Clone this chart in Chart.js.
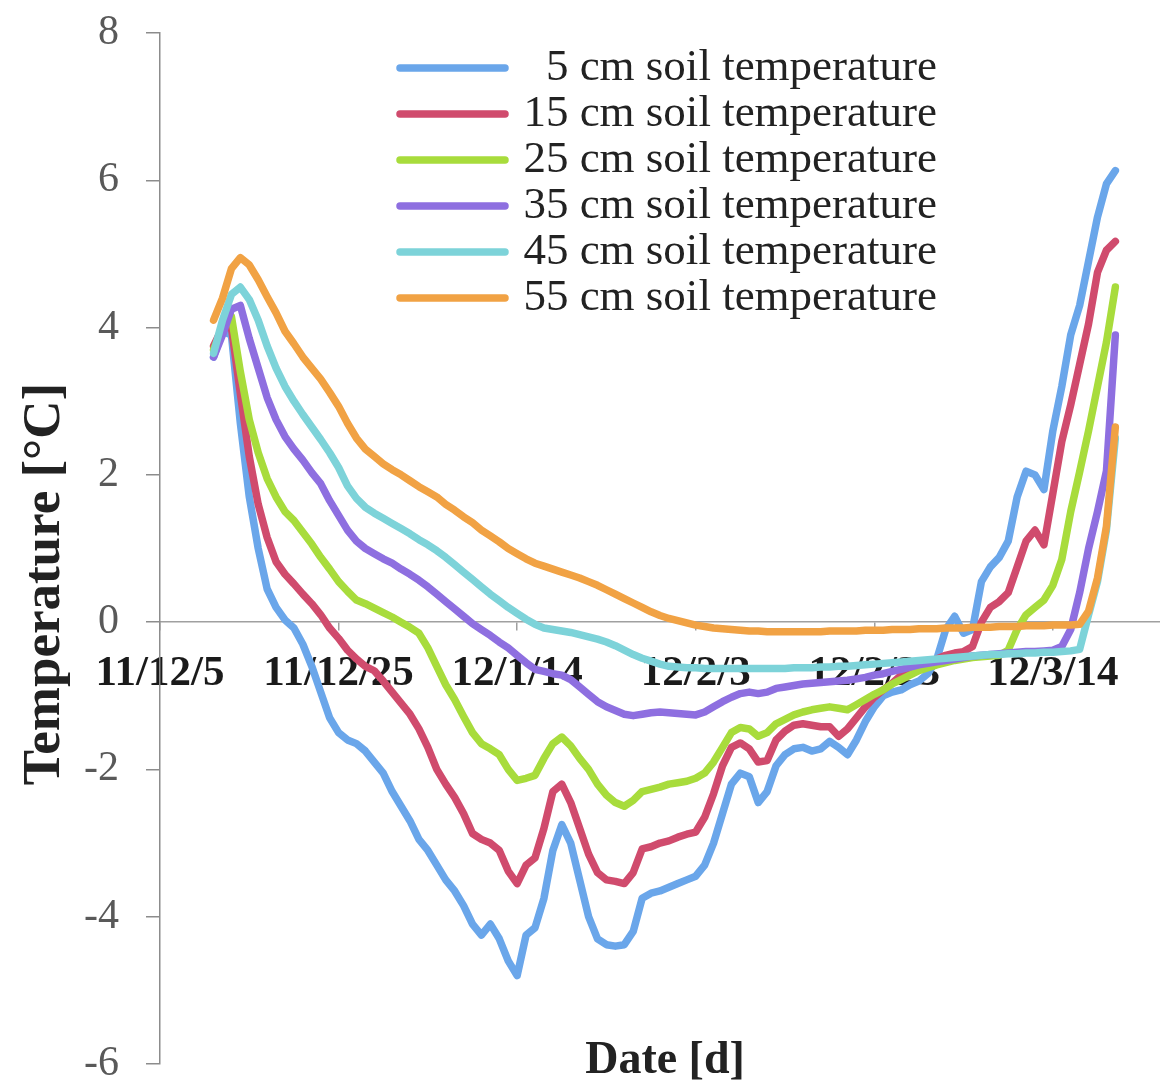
<!DOCTYPE html>
<html>
<head>
<meta charset="utf-8">
<title>Soil temperature</title>
<script src="https://cdn.jsdelivr.net/npm/chart.js@4.4.0/dist/chart.umd.min.js"></script>
<style>
  html, body { margin: 0; padding: 0; background: #fff; }
  #wrap { width: 1160px; height: 1086px; }
</style>
</head>
<body>
<div id="wrap"><canvas id="chart" width="1160" height="1086"></canvas></div>
<script>
// days counted from 2011-12-05
const days = [
  6, 7, 8, 9, 10, 11, 12, 13, 14, 15,
  16, 17, 18, 19, 20, 21, 22, 23, 24, 25,
  26, 27, 28, 29, 30, 31, 32, 33, 34, 35,
  36, 37, 38, 39, 40, 41, 42, 43, 44, 45,
  46, 47, 48, 49, 50, 51, 52, 53, 54, 55,
  56, 57, 58, 59, 60, 61, 62, 63, 64, 65,
  66, 67, 68, 69, 70, 71, 72, 73, 74, 75,
  76, 77, 78, 79, 80, 81, 82, 83, 84, 85,
  86, 87, 88, 89, 90, 91, 92, 93, 94, 95,
  96, 97, 98, 99, 100, 101, 102, 103, 104, 105,
  106, 107
]
const tickDays = [0, 20, 40, 60, 80, 100]
const tickLabels = ["11/12/5", "11/12/25", "12/1/14", "12/2/3", "12/2/23", "12/3/14"]

const seriesNames = [
  "5 cm soil temperature",
  "15 cm soil temperature",
  "25 cm soil temperature",
  "35 cm soil temperature",
  "45 cm soil temperature",
  "55 cm soil temperature"
]
const seriesColors = ["#6aa6ea", "#d04b6d", "#a8dc3c", "#8e6fe0", "#7dd3d9", "#f1a244"]

const soil5 = [
  3.6, 3.95, 3.9, 2.7, 1.7, 1.0, 0.45, 0.2, 0.03, -0.08,
  -0.3, -0.6, -0.95, -1.3, -1.5, -1.6, -1.65, -1.75, -1.9, -2.05,
  -2.3, -2.5, -2.7, -2.95, -3.1, -3.3, -3.5, -3.65, -3.85, -4.1,
  -4.25, -4.1, -4.3, -4.6, -4.8, -4.25, -4.15, -3.75, -3.1, -2.75,
  -3.0, -3.5, -4.0, -4.3, -4.38, -4.4, -4.38, -4.2, -3.75, -3.68,
  -3.65, -3.6, -3.55, -3.5, -3.45, -3.3, -3.0, -2.6, -2.2, -2.05,
  -2.1, -2.45, -2.3, -1.95, -1.8, -1.72, -1.7, -1.75, -1.72, -1.62,
  -1.7, -1.8, -1.6, -1.35, -1.15, -1.0, -0.95, -0.92, -0.85, -0.8,
  -0.7, -0.5, -0.1, 0.08, -0.15, -0.1, 0.55, 0.75, 0.88, 1.1,
  1.7, 2.05, 2.0, 1.8, 2.6, 3.2, 3.9, 4.3, 4.9, 5.5,
  5.95, 6.13
]
const soil15 = [
  3.75, 4.0, 4.0, 3.1, 2.25, 1.6, 1.15, 0.82, 0.65, 0.52,
  0.38, 0.25, 0.1, -0.08, -0.22, -0.38, -0.5, -0.6, -0.66, -0.8,
  -0.95, -1.1, -1.25, -1.45, -1.7, -2.0, -2.2, -2.38, -2.6, -2.87,
  -2.95, -3.0, -3.1, -3.38, -3.55, -3.3, -3.2, -2.8, -2.3, -2.2,
  -2.45, -2.8, -3.15, -3.4, -3.5, -3.52, -3.55, -3.4, -3.08, -3.05,
  -3.0, -2.97, -2.92, -2.88, -2.85, -2.65, -2.33, -1.95, -1.7, -1.64,
  -1.72, -1.9, -1.88, -1.6, -1.48, -1.4, -1.38, -1.4, -1.42, -1.42,
  -1.55, -1.45, -1.3, -1.15, -1.02, -0.92, -0.83, -0.72, -0.65, -0.6,
  -0.55, -0.5, -0.45, -0.42, -0.4, -0.33, 0.0, 0.2, 0.28, 0.4,
  0.75, 1.1, 1.25, 1.05, 1.75, 2.45, 2.95, 3.5, 4.05, 4.75,
  5.05, 5.17
]
const soil25 = [
  3.7, 4.0, 4.15, 3.4, 2.75, 2.3, 1.95, 1.7, 1.5, 1.38,
  1.22, 1.06, 0.88, 0.72, 0.55, 0.42, 0.3, 0.25, 0.19, 0.13,
  0.07, 0.0, -0.07, -0.15, -0.35, -0.6, -0.85, -1.05, -1.28, -1.5,
  -1.65, -1.72, -1.8, -2.0, -2.15, -2.12, -2.08, -1.85, -1.65, -1.56,
  -1.68, -1.85, -2.0, -2.2, -2.35, -2.45, -2.5, -2.42, -2.3, -2.27,
  -2.24, -2.2, -2.18, -2.16, -2.12, -2.05, -1.9, -1.7, -1.5, -1.43,
  -1.45, -1.55, -1.5, -1.38, -1.32, -1.26, -1.22, -1.19, -1.17, -1.15,
  -1.17, -1.19, -1.12, -1.05, -0.98, -0.92, -0.84, -0.78, -0.72, -0.66,
  -0.62, -0.58, -0.55, -0.52, -0.5, -0.48, -0.47, -0.46, -0.45, -0.38,
  -0.1, 0.1, 0.2, 0.3, 0.5, 0.85, 1.5, 2.04, 2.6, 3.2,
  3.8, 4.55
]
const soil35 = [
  3.6, 3.9, 4.25, 4.3, 3.85, 3.45, 3.05, 2.75, 2.52, 2.35,
  2.2, 2.03, 1.88, 1.65, 1.45, 1.25, 1.1, 1.0, 0.93, 0.86,
  0.8, 0.72, 0.65, 0.57, 0.48, 0.38, 0.28, 0.18, 0.08, -0.02,
  -0.1, -0.18, -0.27, -0.35, -0.45, -0.55, -0.64, -0.67, -0.7, -0.72,
  -0.78, -0.88, -0.98, -1.08, -1.15, -1.2, -1.25, -1.27, -1.25, -1.23,
  -1.22, -1.23, -1.24, -1.25, -1.26, -1.22, -1.15, -1.08, -1.02, -0.97,
  -0.95, -0.97, -0.95, -0.9, -0.88, -0.86, -0.84, -0.83, -0.82, -0.81,
  -0.8, -0.79, -0.77, -0.75, -0.72, -0.7, -0.67, -0.64, -0.61, -0.58,
  -0.56, -0.54, -0.52, -0.5, -0.48, -0.46, -0.45, -0.44, -0.43, -0.42,
  -0.41, -0.4, -0.4, -0.39, -0.38, -0.33, -0.1, 0.4, 1.0, 1.5,
  2.05, 3.9
]
const soil45 = [
  3.65, 4.1, 4.45, 4.55, 4.38, 4.1, 3.75, 3.45, 3.2, 3.0,
  2.82, 2.65, 2.48, 2.3, 2.1, 1.85, 1.68, 1.56, 1.48, 1.41,
  1.34, 1.27, 1.2, 1.12, 1.05, 0.97, 0.88, 0.78, 0.68, 0.58,
  0.48, 0.38, 0.29, 0.2, 0.12, 0.04, -0.03, -0.08, -0.1, -0.12,
  -0.14, -0.17, -0.2, -0.23, -0.27, -0.32, -0.38, -0.44, -0.49, -0.53,
  -0.57, -0.6, -0.61, -0.62, -0.62, -0.63, -0.63, -0.63, -0.63, -0.63,
  -0.63, -0.63, -0.63, -0.63, -0.63, -0.62, -0.62, -0.62, -0.61, -0.61,
  -0.6, -0.6, -0.59, -0.58, -0.57, -0.56, -0.55, -0.54, -0.53, -0.52,
  -0.51, -0.5, -0.49, -0.48, -0.47, -0.46, -0.45, -0.44, -0.44, -0.43,
  -0.43, -0.42, -0.42, -0.41, -0.41, -0.4, -0.39, -0.37, 0.1, 0.55,
  1.25, 2.5
]
const soil55 = [
  4.1, 4.4, 4.8, 4.95, 4.85, 4.65, 4.42, 4.2, 3.95, 3.78,
  3.6, 3.45, 3.3, 3.12, 2.93, 2.7, 2.5, 2.35, 2.25, 2.15,
  2.07, 2.0, 1.92, 1.84, 1.77, 1.7, 1.6, 1.52, 1.43, 1.35,
  1.25, 1.17, 1.09, 1.0, 0.93, 0.86, 0.8, 0.76, 0.72, 0.68,
  0.64, 0.6, 0.55, 0.5, 0.44, 0.38, 0.32, 0.26, 0.2, 0.14,
  0.09, 0.05, 0.02, -0.01, -0.04, -0.06, -0.08, -0.09, -0.1, -0.11,
  -0.12, -0.12, -0.13, -0.13, -0.13, -0.13, -0.13, -0.13, -0.13, -0.12,
  -0.12, -0.12, -0.12, -0.11, -0.11, -0.11, -0.1, -0.1, -0.1, -0.09,
  -0.09, -0.09, -0.08, -0.08, -0.08, -0.07, -0.07, -0.07, -0.06, -0.06,
  -0.06, -0.05, -0.05, -0.05, -0.04, -0.04, -0.04, -0.03, 0.15, 0.6,
  1.3, 2.65
]
const seriesValues = [soil5, soil15, soil25, soil35, soil45, soil55]

const serif = '"Liberation Serif", "Times New Roman", serif'

// legend + axis titles drawn at fixed spots like the excel figure
const overlay = {
  id: "overlay",
  afterDraw(chart) {
    const ctx = chart.ctx
    ctx.save()
    chart.data.datasets.forEach((ds, i) => {
      const y = 68 + i * 46
      ctx.strokeStyle = ds.borderColor
      ctx.lineWidth = 7.5
      ctx.lineCap = "round"
      ctx.beginPath()
      ctx.moveTo(400, y)
      ctx.lineTo(505, y)
      ctx.stroke()
      ctx.fillStyle = "#222"
      ctx.font = "45px " + serif
      ctx.textAlign = "right"
      ctx.textBaseline = "alphabetic"
      ctx.fillText(ds.label, 937, y + 12)
    })
    ctx.fillStyle = "#222"
    ctx.font = "bold 46px " + serif
    ctx.textAlign = "center"
    ctx.fillText("Date [d]", 665, 1073)
    ctx.translate(45, 584)
    ctx.rotate(-Math.PI / 2)
    ctx.font = "bold 53px " + serif
    ctx.textBaseline = "middle"
    ctx.fillText("Temperature [°C]", 0, 0)
    ctx.restore()
  }
}

new Chart("chart", {
  type: "line",
  data: {
    datasets: seriesValues.map((vals, i) => ({
      label: seriesNames[i],
      data: days.map((d, j) => ({ x: d, y: vals[j] })),
      borderColor: seriesColors[i],
      backgroundColor: seriesColors[i],
      order: seriesValues.length - i
    }))
  },
  options: {
    responsive: false,
    animation: false,
    layout: { padding: { top: 33, right: 0, bottom: 22, left: 0 } },
    plugins: {
      legend: { display: false },
      tooltip: { enabled: false }
    },
    elements: {
      line: {
        tension: 0,
        borderWidth: 7.5,
        borderCapStyle: "round",
        borderJoinStyle: "round",
        fill: false
      },
      point: { radius: 0, hitRadius: 0 }
    },
    scales: {
      x: {
        type: "linear",
        min: 0,
        max: 112,
        position: { y: 0 },
        afterBuildTicks: (scale) => {
          scale.ticks = tickDays.map(v => ({ value: v }))
        },
        grid: { drawOnChartArea: false, tickLength: 8, color: "#a0a0a0", lineWidth: 1.5 },
        border: { color: "#a0a0a0", width: 1.5 },
        ticks: {
          autoSkip: false,
          maxRotation: 0,
          padding: 22,
          color: "#1a1a1a",
          font: { family: serif, size: 43, weight: "bold", lineHeight: 1.0 },
          callback: (v) => tickLabels[tickDays.indexOf(v)]
        }
      },
      y: {
        min: -6,
        max: 8,
        afterFit: (scale) => {
          scale.width = 160
          scale.paddingTop = 0
          scale.paddingBottom = 0
        },
        grid: { drawOnChartArea: false, tickLength: 14, color: "#8c8c8c", lineWidth: 1.5 },
        border: { color: "#8c8c8c", width: 1.5 },
        ticks: {
          stepSize: 2,
          padding: 27,
          color: "#595959",
          font: { family: serif, size: 42, lineHeight: 1.0 }
        }
      }
    }
  },
  plugins: [overlay]
})
</script>
</body>
</html>
